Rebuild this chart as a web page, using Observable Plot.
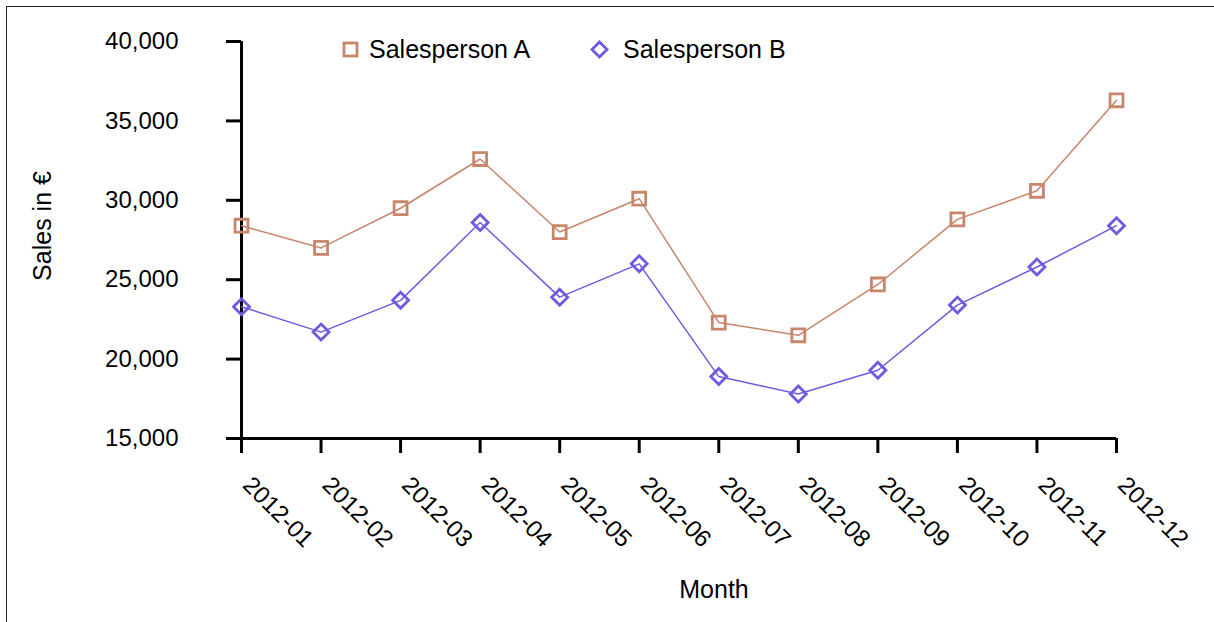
<!DOCTYPE html>
<html>
<head>
<meta charset="utf-8">
<script src="https://cdn.jsdelivr.net/npm/d3@7"></script>
<script src="https://cdn.jsdelivr.net/npm/@observablehq/plot@0.6"></script>
<style>
  body { margin: 0; background: #fff; font-family: "Liberation Sans", Arial, sans-serif; }
  #wrap { position: relative; width: 1214px; height: 622px; overflow: hidden; background: #fff; }
  #edge { position: absolute; left: 6px; top: 6px; width: 1400px; height: 800px;
          border-left: 1.5px solid #222; border-top: 1.5px solid #222; }
  #chart { position: absolute; left: 0; top: 0; }
  .legend-item { position: absolute; top: 33px; height: 32px; display: flex; align-items: center;
                 font-size: 25px; color: #000; white-space: nowrap; }
  .axis-title { position: absolute; font-size: 25px; color: #000; white-space: nowrap; }
</style>
</head>
<body>
<div id="wrap">
  <div id="edge"></div>
  <div id="chart"></div>
  <div class="legend-item" id="legA" style="left:341px"></div>
  <div class="legend-item" id="legB" style="left:589.5px"></div>
  <div class="axis-title" id="xTitle" style="left:714px; top:589px; transform:translate(-50%,-50%)"></div>
  <div class="axis-title" id="yTitle" style="left:42px; top:226px; transform:translate(-50%,-50%) rotate(-90deg)"></div>
</div>
<script>
// Monthly sales per salesperson, 2012
const months = ["2012-01", "2012-02", "2012-03", "2012-04", "2012-05", "2012-06",
                "2012-07", "2012-08", "2012-09", "2012-10", "2012-11", "2012-12"];
const salesA = [28400, 27000, 29500, 32600, 28000, 30100, 22300, 21500, 24700, 28800, 30600, 36300];
const salesB = [23300, 21700, 23700, 28600, 23900, 26000, 18900, 17800, 19300, 23400, 25800, 28400];
const seriesNames = ["Salesperson A", "Salesperson B"];
const yTicks = [15000, 20000, 25000, 30000, 35000, 40000];
const xTitle = "Month";
const yTitle = "Sales in €";

const colorA = "#c8866b";
const colorB = "#6c5ce0";

const rowsA = months.map((m, i) => ({month: m, sales: salesA[i]}));
const rowsB = months.map((m, i) => ({month: m, sales: salesB[i]}));

const chart = Plot.plot({
  width: 1214,
  height: 622,
  marginLeft: 241,
  marginRight: 98,
  marginTop: 41,
  marginBottom: 184,
  style: {fontFamily: '"Liberation Sans", Arial, sans-serif', fontSize: "24px", color: "#000", background: "transparent"},
  x: {type: "point", domain: months, padding: 0, round: false},
  y: {domain: [15000, 40000]},
  marks: [
    // axis lines
    Plot.ruleX([months[0]], {y1: 15000, y2: 40000, stroke: "#000", strokeWidth: 3}),
    Plot.ruleY([15000], {stroke: "#000", strokeWidth: 3}),
    Plot.axisY({ticks: yTicks, tickSize: 15, tickPadding: 48, strokeWidth: 3, stroke: "#000",
                tickFormat: d3.format(","), label: null, fontSize: 24}),
    Plot.axisX({tickSize: 15, strokeWidth: 3, stroke: "#000", tickFormat: () => "", label: null}),
    // rotated month labels
    Plot.text(months, {x: d => d, frameAnchor: "bottom", dy: 48, rotate: 45,
                       textAnchor: "start", lineAnchor: "bottom", fontSize: 24, fill: "#000"}),
    // series
    Plot.line(rowsA, {x: "month", y: "sales", stroke: colorA, strokeWidth: 1.5}),
    Plot.line(rowsB, {x: "month", y: "sales", stroke: colorB, strokeWidth: 1.5}),
    Plot.dot(rowsA, {x: "month", y: "sales", symbol: "square", r: 7.3, stroke: colorA, fill: "none", strokeWidth: 2.8}),
    Plot.dot(rowsB, {x: "month", y: "sales", symbol: "diamond2", r: 7.2, stroke: colorB, fill: "none", strokeWidth: 2.8})
  ]
});
document.getElementById("chart").appendChild(chart);

// legend
function swatch(kind, color, gap) {
  const s = kind === "square"
    ? `<rect x="3" y="3" width="13" height="13" fill="none" stroke="${color}" stroke-width="2.8"/>`
    : `<path d="M9.5 2 L17 9.5 L9.5 17 L2 9.5 Z" fill="none" stroke="${color}" stroke-width="2.8"/>`;
  return `<svg width="19" height="19" viewBox="0 0 19 19" style="margin-right:${gap}px">${s}</svg>`;
}
document.getElementById("legA").innerHTML = swatch("square", colorA, 9) + `<span>${seriesNames[0]}</span>`;
document.getElementById("legB").innerHTML = swatch("diamond", colorB, 14.5) + `<span>${seriesNames[1]}</span>`;
document.getElementById("xTitle").textContent = xTitle;
document.getElementById("yTitle").textContent = yTitle;
</script>
</body>
</html>
